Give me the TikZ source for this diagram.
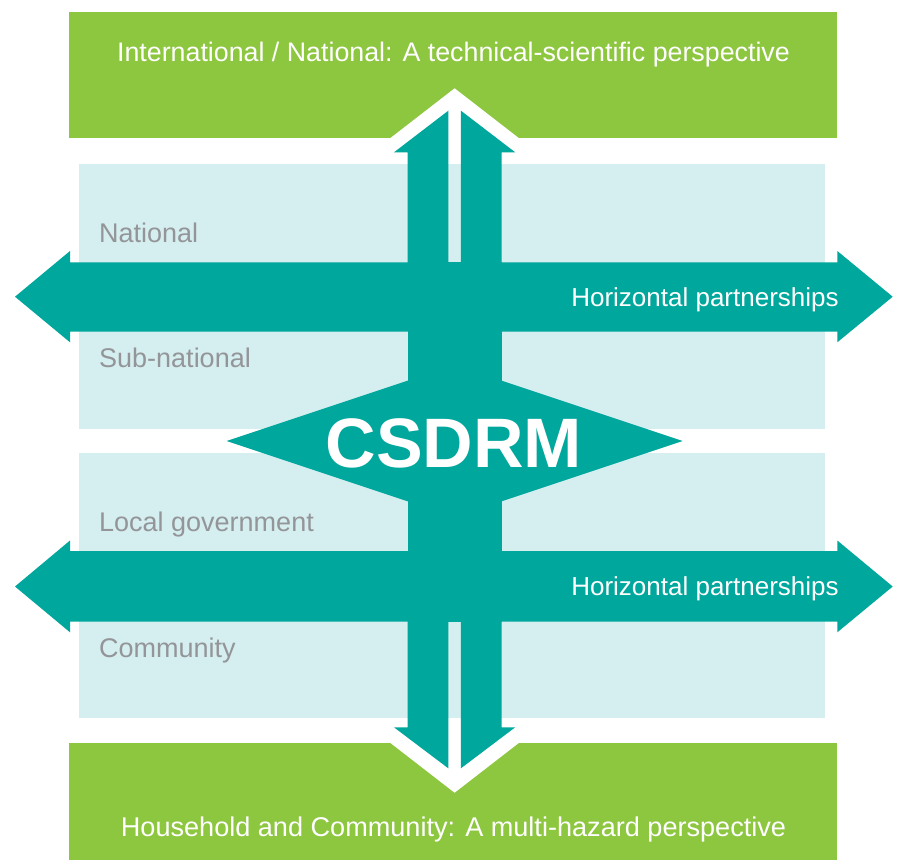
\documentclass[tikz,border=0pt]{standalone}
\usepackage{fontspec}
\setmainfont{Liberation Sans}
\definecolor{grn}{HTML}{8DC63F}
\definecolor{tealc}{HTML}{00A79D}
\definecolor{pale}{HTML}{D5EEF0}
\definecolor{txtgray}{HTML}{939598}
\begin{document}
\begin{tikzpicture}[x=1pt,y=-1pt,
  band/.style={fill=grn},
  panel/.style={fill=pale},
  arrowfill/.style={fill=tealc},
  halo/.style={fill=white},
  bandtext/.style={text=white,inner sep=0pt,anchor=base},
  leveltext/.style={text=txtgray,font=\fontsize{27}{31}\selectfont,inner sep=0pt,anchor=base west},
  hptext/.style={text=white,font=\fontsize{26}{30}\selectfont,inner sep=0pt,anchor=base},
  bigtext/.style={text=white,font=\fontsize{70}{80}\selectfont\bfseries,inner sep=0pt,anchor=base}]
\useasboundingbox[fill=white] (0,0) rectangle (899,860);
% green bands
\fill[band] (69,12) rectangle (837,137.8);
\fill[band] (69,742.7) rectangle (837,860);
% white halos round the arrow heads
\fill[halo] (454.6,88.3) -- (356.9,164) -- (552.3,164) -- cycle;
\fill[halo] (454.6,792.7) -- (356.9,717) -- (552.3,717) -- cycle;
% light panels
\fill[panel] (79,164) rectangle (825,429.3);
\fill[panel] (79,453.3) rectangle (825,717.7);
% central solid shaft
\fill[arrowfill] (407.5,262) rectangle (501.7,622);
% top up-arrow, split in two halves
\fill[arrowfill] (407.5,263) -- (407.5,152.3) -- (394,152.3) -- (448.3,110.7) -- (448.3,263) -- cycle;
\fill[arrowfill] (501.7,263) -- (501.7,152.3) -- (515.2,152.3) -- (460.9,110.7) -- (460.9,263) -- cycle;
% bottom down-arrow, split in two halves
\fill[arrowfill] (407.5,621) -- (407.5,727.3) -- (394,727.3) -- (448.3,768.3) -- (448.3,621) -- cycle;
\fill[arrowfill] (501.7,621) -- (501.7,727.3) -- (515.2,727.3) -- (460.9,768.3) -- (460.9,621) -- cycle;
% horizontal double arrows
\fill[arrowfill] (15,296.7) -- (70,251) -- (70,262.3) -- (837.3,262.3) -- (837.3,251) -- (892.7,296.7)
  -- (837.3,342.3) -- (837.3,331.7) -- (70,331.7) -- (70,342.3) -- cycle;
\fill[arrowfill] (15,586.5) -- (70,540.5) -- (70,551.2) -- (837.3,551.2) -- (837.3,540.5) -- (892.7,586.5)
  -- (837.3,632.3) -- (837.3,621.7) -- (70,621.7) -- (70,632.3) -- cycle;
% central diamond
\fill[arrowfill] (226.6,441) -- (454.6,365) -- (682.6,441) -- (454.6,517) -- cycle;
% texts
\node[bandtext,font=\fontsize{26.8}{31}\selectfont] (toptext) at (453.5,61.7) {International / National: A technical-scientific perspective};
\node[bandtext,font=\fontsize{27.1}{31}\selectfont] (bottomtext) at (453.5,836) {Household and Community: A multi-hazard perspective};
\node[leveltext] (national) at (99,242.3) {National};
\node[leveltext] (subnational) at (99,367.7) {Sub-national};
\node[leveltext] (localgov) at (99,531) {Local government};
\node[leveltext] (community) at (99,657.5) {Community};
\node[hptext] (hpupper) at (705,306) {Horizontal partnerships};
\node[hptext] (hplower) at (705,595.5) {Horizontal partnerships};
\node[bigtext] (csdrm) at (454,467) {CSDRM};
\end{tikzpicture}
\end{document}
